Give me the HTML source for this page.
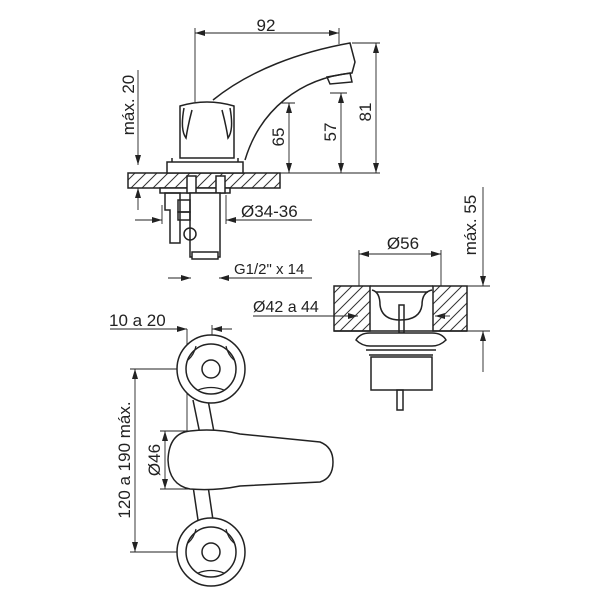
<!DOCTYPE html>
<html><head><style>body{margin:0;background:#fff}svg{display:block}</style></head><body>
<svg width="600" height="600" viewBox="0 0 600 600" xmlns="http://www.w3.org/2000/svg" font-family="Liberation Sans, sans-serif" fill="none" stroke="#222">
<defs>
<pattern id="h" width="11" height="11" patternUnits="userSpaceOnUse"><path d="M0,11 L11,0 M-2,2 L2,-2 M9,13 L13,9" stroke="#333" stroke-width="1"/></pattern>
<marker id="a" viewBox="0 0 10 6" refX="10" refY="3" markerWidth="10" markerHeight="6" orient="auto-start-reverse" markerUnits="userSpaceOnUse"><path d="M0,0L10,3L0,6z" fill="#222" stroke="none"/></marker>
</defs>
<g stroke-width="0.9">
<line x1="195" y1="28" x2="195" y2="102"/><line x1="339" y1="28" x2="339" y2="44"/>
<line x1="195" y1="33" x2="339" y2="33" marker-start="url(#a)" marker-end="url(#a)"/>
<line x1="138" y1="70" x2="138" y2="165" marker-end="url(#a)"/><line x1="138" y1="210" x2="138" y2="188" marker-end="url(#a)"/>
<line x1="235" y1="103" x2="295" y2="103"/><line x1="289" y1="103" x2="289" y2="173" marker-start="url(#a)" marker-end="url(#a)"/>
<line x1="330" y1="93" x2="347" y2="93"/><line x1="341" y1="93" x2="341" y2="173" marker-start="url(#a)" marker-end="url(#a)"/>
<line x1="352" y1="43" x2="380" y2="43"/><line x1="280" y1="173" x2="380" y2="173"/><line x1="376" y1="43" x2="376" y2="173" marker-start="url(#a)" marker-end="url(#a)"/>
<line x1="312" y1="220" x2="226" y2="220" marker-end="url(#a)"/><line x1="135" y1="220" x2="162" y2="220" marker-end="url(#a)"/>
<line x1="162" y1="205" x2="162" y2="224"/><line x1="226" y1="195" x2="226" y2="224"/>
<line x1="312" y1="278" x2="219" y2="278" marker-end="url(#a)"/><line x1="168" y1="278" x2="191" y2="278" marker-end="url(#a)"/>
<line x1="359" y1="254" x2="441" y2="254" marker-start="url(#a)" marker-end="url(#a)"/>
<line x1="359" y1="250" x2="359" y2="286"/><line x1="441" y1="250" x2="441" y2="286"/>
<line x1="483" y1="187" x2="483" y2="286" marker-end="url(#a)"/><line x1="483" y1="372" x2="483" y2="331" marker-end="url(#a)"/>
<line x1="467" y1="286" x2="490" y2="286"/><line x1="467" y1="331" x2="490" y2="331"/>
<line x1="253" y1="316" x2="358" y2="316" marker-end="url(#a)"/><line x1="450" y1="316" x2="435" y2="316" marker-end="url(#a)"/>
<line x1="110" y1="329" x2="187" y2="329" marker-end="url(#a)"/><line x1="232" y1="329" x2="212" y2="329" marker-end="url(#a)"/>
<line x1="187" y1="329" x2="187" y2="460"/><line x1="212" y1="325" x2="212" y2="369"/>
<line x1="130" y1="369" x2="211" y2="369"/><line x1="130" y1="552" x2="211" y2="552"/>
<line x1="135" y1="369" x2="135" y2="552" marker-start="url(#a)" marker-end="url(#a)"/>
<line x1="160" y1="431" x2="190" y2="431"/><line x1="160" y1="489" x2="190" y2="489"/>
<line x1="165" y1="431" x2="165" y2="489" marker-start="url(#a)" marker-end="url(#a)"/>
</g>
<g fill="#222" stroke="none" font-size="17">
<text x="266" y="31" text-anchor="middle">92</text>
<text transform="translate(134,105) rotate(-90)" text-anchor="middle">máx. 20</text>
<text transform="translate(284,137) rotate(-90)" text-anchor="middle">65</text>
<text transform="translate(336,132) rotate(-90)" text-anchor="middle">57</text>
<text transform="translate(371,112) rotate(-90)" text-anchor="middle">81</text>
<text x="241" y="217">Ø34-36</text>
<text x="403" y="249" text-anchor="middle">Ø56</text>
<text transform="translate(476,225) rotate(-90)" text-anchor="middle">máx. 55</text>
<text x="109" y="326">10 a 20</text>
<text transform="translate(130,460) rotate(-90)" text-anchor="middle">120 a 190 máx.</text>
<text transform="translate(160,460) rotate(-90)" text-anchor="middle">Ø46</text>
<text x="253" y="312" font-size="16">Ø42 a 44</text>
<text x="234" y="274" font-size="15">G1/2" x 14</text>
</g>
<g stroke-width="1.5">
<rect x="128" y="173" width="152" height="15" fill="url(#h)"/>
<path d="M213,100 C250,70 300,52 350,43 L355,62 L352,73 C300,78 260,110 245,160" fill="#fff"/>
<path d="M327,77 L350,73 L352,82 L330,84 Z"/>
<path d="M180,106 Q207,98 234,106 L234,158 L180,158 Z" fill="#fff"/>
<path d="M184,108 Q180,130 186,138 Q188,125 192,110"/><path d="M230,108 Q234,130 228,138 Q226,125 222,110"/>
<rect x="167" y="162" width="76" height="11" fill="#fff"/>
<line x1="172" y1="158" x2="172" y2="162"/><line x1="238" y1="158" x2="238" y2="162"/>
<rect x="160" y="188" width="70" height="5" fill="#fff"/>
<rect x="187" y="176" width="9" height="17" fill="#fff"/><rect x="216" y="176" width="9" height="17" fill="#fff"/>
<rect x="190" y="193" width="30" height="64" fill="#fff"/>
<rect x="192" y="252" width="26" height="7" fill="#fff"/>
<path d="M165,193 L180,193 L180,243 L170,243 L170,210 L165,210 Z"/>
<rect x="178" y="200" width="12" height="12"/><rect x="178" y="212" width="12" height="8"/>
<circle cx="190" cy="234" r="6"/>
<rect x="334" y="286" width="36" height="45" fill="url(#h)"/>
<rect x="433" y="286" width="34" height="45" fill="url(#h)"/>
<path d="M370,286 L433,286 M372,290 Q380,292 380,305 Q382,320 400,320 Q420,320 422,305 Q422,292 432,290"/>
<path d="M376,292 L428,292"/>
<rect x="399" y="305" width="5" height="28"/>
<line x1="334" y1="331" x2="467" y2="331"/>
<path d="M356,340 Q360,333 370,333 L432,333 Q442,333 446,340 Q440,346 432,346 L370,346 Q362,346 356,340 Z" fill="#fff"/>
<line x1="366" y1="350" x2="436" y2="350"/><line x1="369" y1="355" x2="433" y2="355"/>
<rect x="371" y="357" width="61" height="33" fill="#fff"/>
<rect x="397" y="390" width="6" height="20"/>
<path d="M193,400 L200,434 M208,400 L214,432 M193,486 L198,520 M208,486 L213,520"/>
<path d="M190,431 Q215,428 240,434 L320,442 Q333,447 333,462 Q333,478 320,482 L240,486 Q215,491 190,489 Q169,485 168,460 Q169,433 190,431 Z" fill="#fff"/>
<g fill="#fff">
<circle cx="211" cy="369" r="34"/><circle cx="211" cy="369" r="25"/><circle cx="211" cy="369" r="9"/>
<circle cx="211" cy="552" r="34"/><circle cx="211" cy="552" r="25"/><circle cx="211" cy="552" r="9"/>
</g>
<path d="M188,360 Q194,355 196,346 M234,360 Q228,355 226,346 M198,390 Q211,385 224,390" stroke-width="1.2"/>
<path d="M188,543 Q194,538 196,529 M234,543 Q228,538 226,529 M198,573 Q211,568 224,573" stroke-width="1.2"/>
</g>
</svg>
</body></html>
